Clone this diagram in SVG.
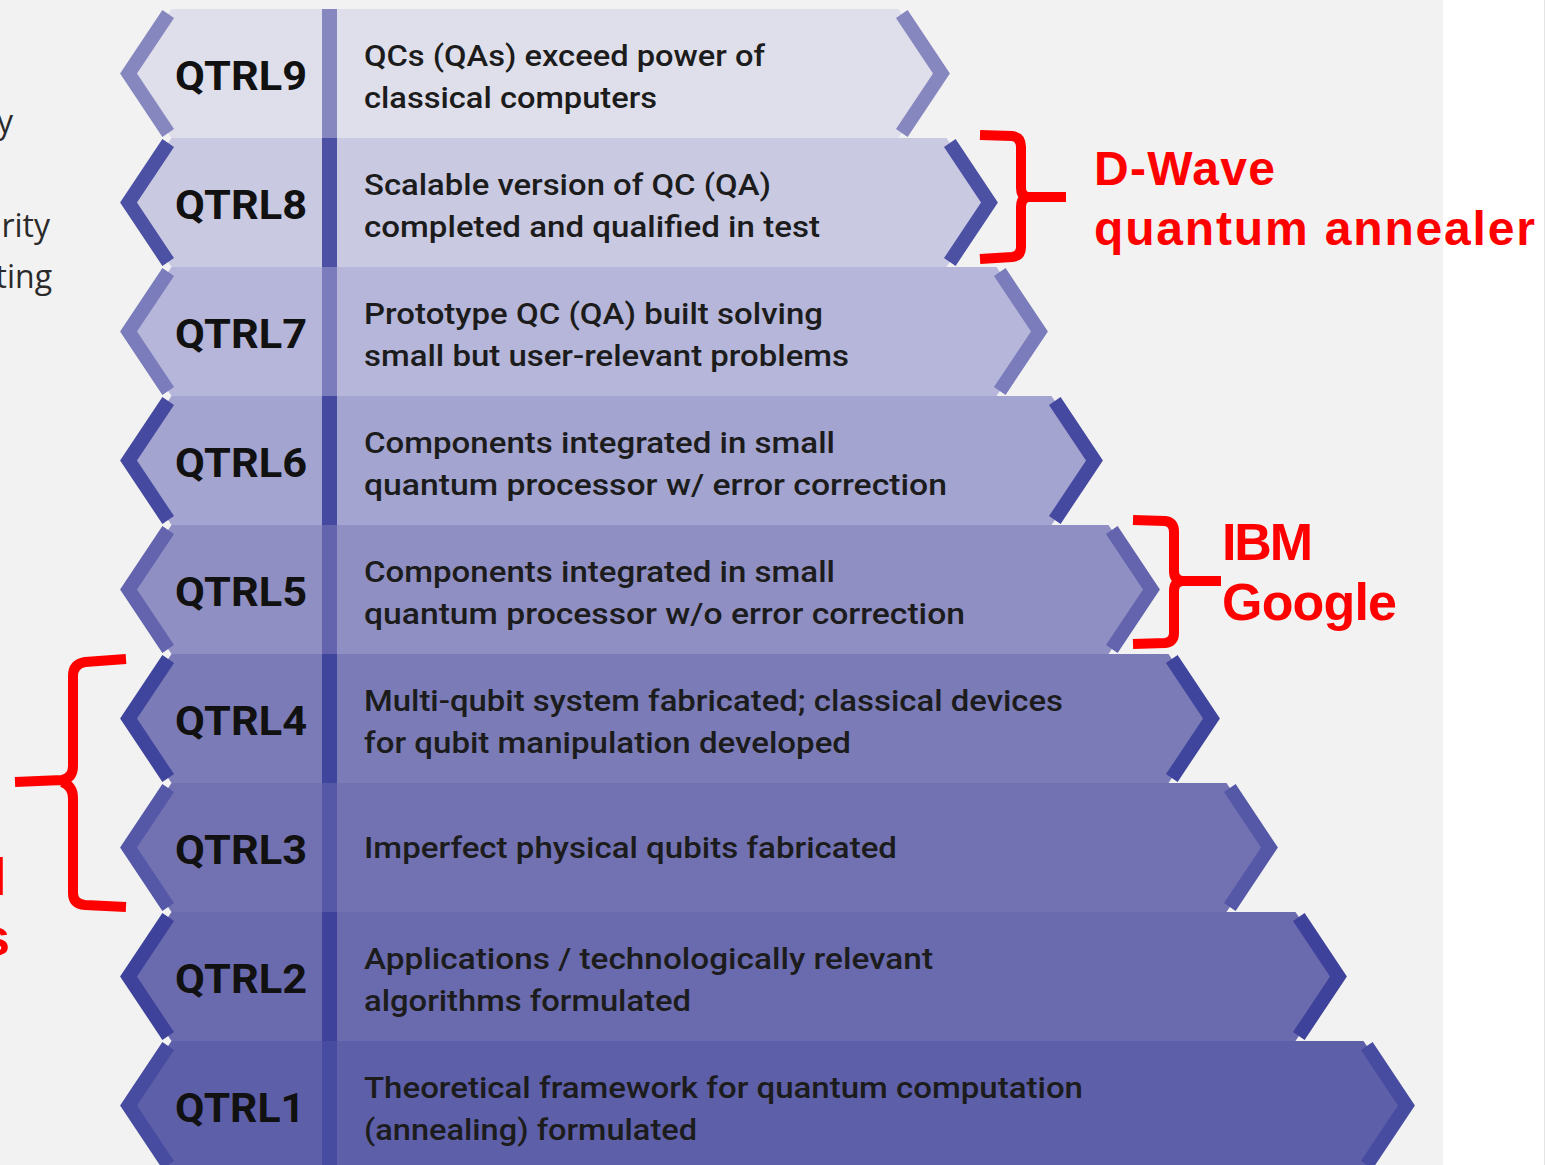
<svg xmlns="http://www.w3.org/2000/svg" width="1546" height="1165" viewBox="0 0 1546 1165">
  <style>
    .hex{stroke:none}
    .chev{fill:none;stroke-width:14;stroke-linejoin:miter;stroke-linecap:butt}
    .lbl{font-family:Roboto,"Liberation Sans",sans-serif;font-weight:700;font-size:41px;fill:#111}
    .desc{font-family:Roboto,"Liberation Sans",sans-serif;font-weight:500;font-size:30px;fill:#1c1c1c}
    .side{font-family:"Open Sans","Liberation Sans",sans-serif;font-size:32px;fill:#2a2a2a}
    .red{font-family:"Liberation Sans",Arial,sans-serif;font-weight:700;fill:#fe0000}
    .brace{fill:none;stroke:#fe0000;stroke-width:10;stroke-linejoin:round}
    .r9 .hex{fill:#dfdfeb} .r9 .chev{stroke:#8787c0} .r9 .bar{fill:#8787c0}
    .r8 .hex{fill:#c9cae2} .r8 .chev{stroke:#4c51a3} .r8 .bar{fill:#4c51a3}
    .r7 .hex{fill:#b5b6d9} .r7 .chev{stroke:#7b7cbb} .r7 .bar{fill:#7b7cbb}
    .r6 .hex{fill:#a3a4cf} .r6 .chev{stroke:#4649a0} .r6 .bar{fill:#4649a0}
    .r5 .hex{fill:#8f8fc3} .r5 .chev{stroke:#6364ad} .r5 .bar{fill:#6364ad}
    .r4 .hex{fill:#7a7bb7} .r4 .chev{stroke:#3f449c} .r4 .bar{fill:#3f449c}
    .r3 .hex{fill:#7272b3} .r3 .chev{stroke:#5558a7} .r3 .bar{fill:#5558a7}
    .r2 .hex{fill:#6a6aae} .r2 .chev{stroke:#3e429b} .r2 .bar{fill:#3e429b}
    .r1 .hex{fill:#5e5fa9} .r1 .chev{stroke:#484ca0} .r1 .bar{fill:#484ca0}
  </style>

  <!-- page background -->
  <rect x="0" y="0" width="1546" height="1165" fill="#ffffff"/>
  <rect x="0" y="0" width="1443" height="1165" fill="#f2f2f2"/>
  <line x1="1544.5" y1="0" x2="1544.5" y2="1165" stroke="#e4e4e4" stroke-width="1"/>

  <!-- text continuing from the left margin -->
  <g id="margin-text">
    <text class="side" x="13" y="133" text-anchor="end">y</text>
    <text class="side" x="50" y="237" text-anchor="end">rity</text>
    <text class="side" x="52" y="288" text-anchor="end">ting</text>
    <text class="red" font-size="52" x="-8" y="895">l</text>
    <text class="red" font-size="52" x="-19" y="955">s</text>
  </g>

  <!-- QTRL9 -->
  <g id="qtrl9" class="r9">
    <polygon class="hex" points="171.5,9 898.5,9 941.5,73.5 898.5,138 171.5,138 128.5,73.5"/>
    <polyline class="chev" points="168.2,14 128.5,73.5 168.2,133"/>
    <polyline class="chev" points="901.8,14 941.5,73.5 901.8,133"/>
    <rect class="bar" x="322" y="9" width="15" height="129"/>
    <text class="lbl" x="175" y="90" textLength="132" lengthAdjust="spacingAndGlyphs">QTRL9</text>
    <text class="desc" x="364" y="66" textLength="401" lengthAdjust="spacingAndGlyphs">QCs (QAs) exceed power of</text>
    <text class="desc" x="364" y="108" textLength="293" lengthAdjust="spacingAndGlyphs">classical computers</text>
  </g>

  <!-- QTRL8 -->
  <g id="qtrl8" class="r8">
    <polygon class="hex" points="171.5,138 946.5,138 989.5,202.5 946.5,267 171.5,267 128.5,202.5"/>
    <polyline class="chev" points="168.2,143 128.5,202.5 168.2,262"/>
    <polyline class="chev" points="949.8,143 989.5,202.5 949.8,262"/>
    <rect class="bar" x="322" y="138" width="15" height="129"/>
    <text class="lbl" x="175" y="219" textLength="132" lengthAdjust="spacingAndGlyphs">QTRL8</text>
    <text class="desc" x="364" y="195" textLength="407" lengthAdjust="spacingAndGlyphs">Scalable version of QC (QA)</text>
    <text class="desc" x="364" y="237" textLength="456" lengthAdjust="spacingAndGlyphs">completed and qualified in test</text>
  </g>

  <!-- QTRL7 -->
  <g id="qtrl7" class="r7">
    <polygon class="hex" points="171.5,267 996.5,267 1039.5,331.5 996.5,396 171.5,396 128.5,331.5"/>
    <polyline class="chev" points="168.2,272 128.5,331.5 168.2,391"/>
    <polyline class="chev" points="999.8,272 1039.5,331.5 999.8,391"/>
    <rect class="bar" x="322" y="267" width="15" height="129"/>
    <text class="lbl" x="175" y="348" textLength="132" lengthAdjust="spacingAndGlyphs">QTRL7</text>
    <text class="desc" x="364" y="324" textLength="459" lengthAdjust="spacingAndGlyphs">Prototype QC (QA) built solving</text>
    <text class="desc" x="364" y="366" textLength="485" lengthAdjust="spacingAndGlyphs">small but user-relevant problems</text>
  </g>

  <!-- QTRL6 -->
  <g id="qtrl6" class="r6">
    <polygon class="hex" points="171.5,396 1051.5,396 1094.5,460.5 1051.5,525 171.5,525 128.5,460.5"/>
    <polyline class="chev" points="168.2,401 128.5,460.5 168.2,520"/>
    <polyline class="chev" points="1054.8,401 1094.5,460.5 1054.8,520"/>
    <rect class="bar" x="322" y="396" width="15" height="129"/>
    <text class="lbl" x="175" y="477" textLength="132" lengthAdjust="spacingAndGlyphs">QTRL6</text>
    <text class="desc" x="364" y="453" textLength="471" lengthAdjust="spacingAndGlyphs">Components integrated in small</text>
    <text class="desc" x="364" y="495" textLength="583" lengthAdjust="spacingAndGlyphs">quantum processor w/ error correction</text>
  </g>

  <!-- QTRL5 -->
  <g id="qtrl5" class="r5">
    <polygon class="hex" points="171.5,525 1108.5,525 1151.5,589.5 1108.5,654 171.5,654 128.5,589.5"/>
    <polyline class="chev" points="168.2,530 128.5,589.5 168.2,649"/>
    <polyline class="chev" points="1111.8,530 1151.5,589.5 1111.8,649"/>
    <rect class="bar" x="322" y="525" width="15" height="129"/>
    <text class="lbl" x="175" y="606" textLength="132" lengthAdjust="spacingAndGlyphs">QTRL5</text>
    <text class="desc" x="364" y="582" textLength="471" lengthAdjust="spacingAndGlyphs">Components integrated in small</text>
    <text class="desc" x="364" y="624" textLength="601" lengthAdjust="spacingAndGlyphs">quantum processor w/o error correction</text>
  </g>

  <!-- QTRL4 -->
  <g id="qtrl4" class="r4">
    <polygon class="hex" points="171.5,654 1168.5,654 1211.5,718.5 1168.5,783 171.5,783 128.5,718.5"/>
    <polyline class="chev" points="168.2,659 128.5,718.5 168.2,778"/>
    <polyline class="chev" points="1171.8,659 1211.5,718.5 1171.8,778"/>
    <rect class="bar" x="322" y="654" width="15" height="129"/>
    <text class="lbl" x="175" y="735" textLength="132" lengthAdjust="spacingAndGlyphs">QTRL4</text>
    <text class="desc" x="364" y="711" textLength="699" lengthAdjust="spacingAndGlyphs">Multi-qubit system fabricated; classical devices</text>
    <text class="desc" x="364" y="753" textLength="487" lengthAdjust="spacingAndGlyphs">for qubit manipulation developed</text>
  </g>

  <!-- QTRL3 -->
  <g id="qtrl3" class="r3">
    <polygon class="hex" points="171.5,783 1226.5,783 1269.5,847.5 1226.5,912 171.5,912 128.5,847.5"/>
    <polyline class="chev" points="168.2,788 128.5,847.5 168.2,907"/>
    <polyline class="chev" points="1229.8,788 1269.5,847.5 1229.8,907"/>
    <rect class="bar" x="322" y="783" width="15" height="129"/>
    <text class="lbl" x="175" y="864" textLength="132" lengthAdjust="spacingAndGlyphs">QTRL3</text>
    <text class="desc" x="364" y="858" textLength="533" lengthAdjust="spacingAndGlyphs">Imperfect physical qubits fabricated</text>
  </g>

  <!-- QTRL2 -->
  <g id="qtrl2" class="r2">
    <polygon class="hex" points="171.5,912 1295.5,912 1338.5,976.5 1295.5,1041 171.5,1041 128.5,976.5"/>
    <polyline class="chev" points="168.2,917 128.5,976.5 168.2,1036"/>
    <polyline class="chev" points="1298.8,917 1338.5,976.5 1298.8,1036"/>
    <rect class="bar" x="322" y="912" width="15" height="129"/>
    <text class="lbl" x="175" y="993" textLength="132" lengthAdjust="spacingAndGlyphs">QTRL2</text>
    <text class="desc" x="364" y="969" textLength="569" lengthAdjust="spacingAndGlyphs">Applications / technologically relevant</text>
    <text class="desc" x="364" y="1011" textLength="327" lengthAdjust="spacingAndGlyphs">algorithms formulated</text>
  </g>

  <!-- QTRL1 -->
  <g id="qtrl1" class="r1">
    <polygon class="hex" points="171.5,1041 1363.5,1041 1406.5,1105.5 1363.5,1170 171.5,1170 128.5,1105.5"/>
    <polyline class="chev" points="168.2,1046 128.5,1105.5 168.2,1165"/>
    <polyline class="chev" points="1366.8,1046 1406.5,1105.5 1366.8,1165"/>
    <rect class="bar" x="322" y="1041" width="15" height="129"/>
    <text class="lbl" x="175" y="1122" textLength="130" lengthAdjust="spacingAndGlyphs">QTRL1</text>
    <text class="desc" x="364" y="1098" textLength="719" lengthAdjust="spacingAndGlyphs">Theoretical framework for quantum computation</text>
    <text class="desc" x="364" y="1140" textLength="333" lengthAdjust="spacingAndGlyphs">(annealing) formulated</text>
  </g>

  <!-- red brackets grouping levels -->
  <g id="connectors">
    <path class="brace" d="M980,135 L1012,136 Q1021,137 1021,147 L1021,188 Q1021,196 1028,197 L1066,197 M1028,197 Q1021,198 1021,207 L1021,247 Q1021,256 1012,257 L980,259"/>
    <path class="brace" d="M1133,520 L1165,521 Q1174,522 1174,532 L1174,571 Q1174,580 1182,581 L1221,581 M1182,581 Q1174,582 1174,591 L1174,633 Q1174,642 1165,643 L1133,644"/>
    <path class="brace" d="M126,659 L85,662 Q73,664 73,676 L73,766 Q73,778 62,780 L15,782 M62,782 Q73,786 73,798 L73,893 Q73,904 85,905 L126,907"/>
  </g>

  <g id="dwave-label">
    <text class="red" font-size="48" x="1094" y="185" textLength="181">D-Wave</text>
    <text class="red" font-size="48" x="1094" y="245" textLength="441">quantum annealer</text>
  </g>
  <g id="ibm-google-label">
    <text class="red" font-size="52" x="1222" y="560" textLength="91">IBM</text>
    <text class="red" font-size="52" x="1222" y="620" textLength="175">Google</text>
  </g>
</svg>
